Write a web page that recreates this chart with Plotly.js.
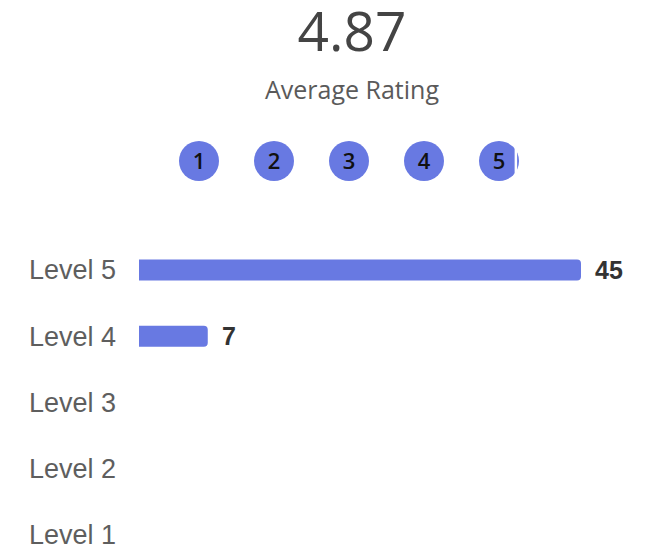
<!DOCTYPE html>
<html>
<head>
<meta charset="utf-8">
<script src="https://cdn.plot.ly/plotly-3.0.1.min.js"></script>
<style>html,body{margin:0;padding:0;background:#fff;}#chart{width:649px;height:549px;}</style>
</head>
<body>
<div id="chart"></div>
<script>
// Data
const levels = ['Level 1', 'Level 2', 'Level 3', 'Level 4', 'Level 5'];
const levelScores = [1, 2, 3, 4, 5];
const counts = [0, 0, 0, 7, 45];
const ratingSteps = [1, 2, 3, 4, 5];
const subtitleText = 'Average Rating';

const total = counts.reduce((a, b) => a + b, 0);
const avg = counts.reduce((s, c, i) => s + c * levelScores[i], 0) / total;

const barColor = '#6879e2';

const barTrace = {
  type: 'bar',
  orientation: 'h',
  x: counts,
  y: levels,
  marker: { color: barColor, cornerradius: 4 },
  width: 0.32,
  hoverinfo: 'skip',
  xaxis: 'x', yaxis: 'y'
};

const circleTrace = {
  type: 'scatter',
  mode: 'markers',
  x: ratingSteps,
  y: ratingSteps.map(() => 0.5),
  marker: { symbol: 'circle', size: 40, color: barColor, line: { width: 0 } },
  hoverinfo: 'skip',
  xaxis: 'x2', yaxis: 'y2'
};

const circleTextTrace = {
  type: 'scatter',
  mode: 'text',
  x: ratingSteps,
  y: ratingSteps.map(() => 0.45),
  text: ratingSteps.map(String),
  textposition: 'middle center',
  textfont: { family: 'Open Sans, Noto Sans, sans-serif', size: 22, color: '#111111', weight: 600 },
  hoverinfo: 'skip',
  xaxis: 'x2', yaxis: 'y2'
};

// partial-fill sliver on the last circle (unfilled part of average)
const frac = avg - Math.floor(avg);
const diamUnits = 40 / 75;
const sliverTrace = {
  type: 'scatter',
  mode: 'markers',
  x: [Math.ceil(avg) - diamUnits / 2 + frac * diamUnits + 0.03],
  y: [0.5],
  marker: { symbol: 'line-ns-open', size: 24, color: '#ffffff', line: { color: '#ffffff', width: 2.5 } },
  hoverinfo: 'skip',
  xaxis: 'x2', yaxis: 'y2'
};

const annotations = [];
counts.forEach((c, i) => {
  if (c > 0) {
    annotations.push({
      x: c, y: levels[i], xref: 'x', yref: 'y',
      text: '<b>' + c + '</b>', showarrow: false,
      xanchor: 'left', yanchor: 'middle', xshift: 12,
      font: { family: 'Liberation Sans, Arial, sans-serif', size: 25, color: '#333333' }
    });
  }
});
annotations.push({
  x: 0.4808, y: 0.838, xref: 'paper', yref: 'paper',
  text: subtitleText, showarrow: false, xanchor: 'center', yanchor: 'middle',
  font: { family: 'Open Sans, Noto Sans, sans-serif', size: 25, color: '#5a5a5a' }
});

const layout = {
  width: 649, height: 549,
  margin: { l: 139, r: 68, t: 0, b: 0, pad: 0 },
  paper_bgcolor: '#ffffff', plot_bgcolor: '#ffffff',
  showlegend: false,
  title: {
    text: avg.toFixed(2),
    x: 0.5424, xanchor: 'center', xref: 'container',
    y: 0.943, yanchor: 'middle', yref: 'container',
    font: { family: 'Open Sans, Noto Sans, sans-serif', size: 55, color: '#444444' }
  },
  xaxis: {
    range: [0, 45], domain: [0, 1], anchor: 'y',
    showgrid: false, zeroline: false, showticklabels: false, showline: false, fixedrange: true
  },
  yaxis: {
    type: 'category', categoryorder: 'array', categoryarray: levels,
    range: [-0.211, 4.755], domain: [0, 0.5993], anchor: 'x',
    showgrid: false, zeroline: false, showline: false, ticks: '',
    ticklabelstandoff: 22,
    tickfont: { family: 'Liberation Sans, Arial, sans-serif', size: 27, color: '#5e5e5e' },
    fixedrange: true
  },
  xaxis2: {
    range: [0.2, 6.0933], domain: [0, 1], anchor: 'y2',
    visible: false, fixedrange: true
  },
  yaxis2: {
    range: [0, 1], domain: [0.6521, 0.7614], anchor: 'x2',
    visible: false, fixedrange: true
  },
  annotations: annotations
};

Plotly.newPlot('chart', [barTrace, circleTrace, sliverTrace, circleTextTrace], layout, { displayModeBar: false, staticPlot: true });
</script>
</body>
</html>
